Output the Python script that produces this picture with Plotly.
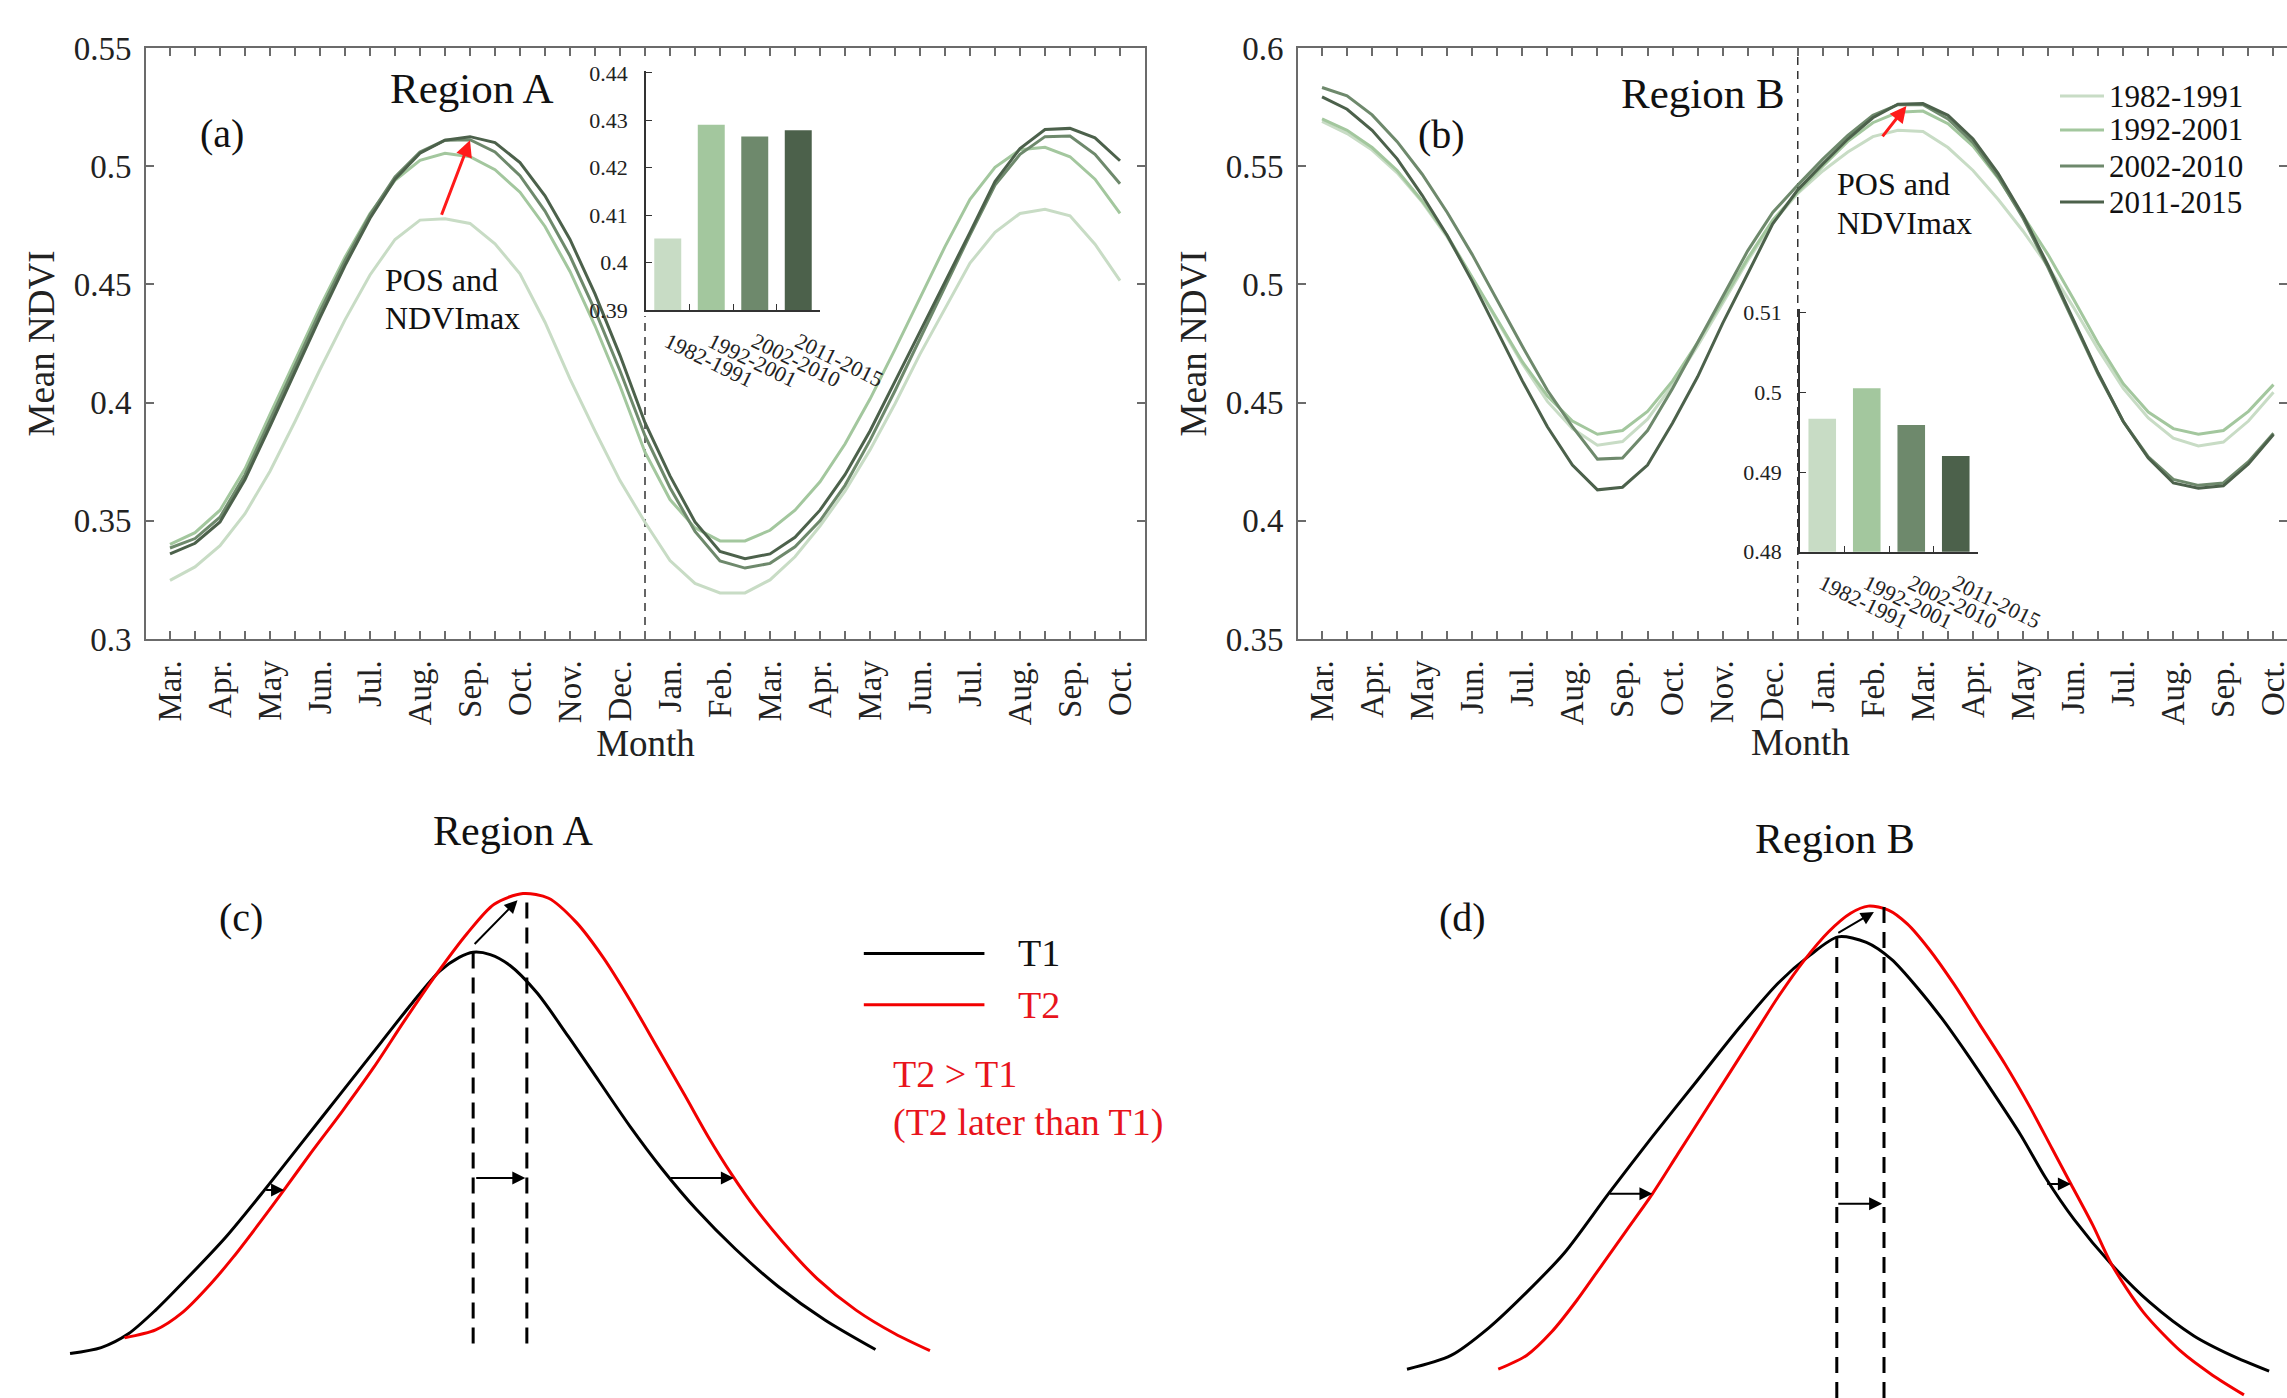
import plotly.graph_objects as go

W, H = 2287, 1398
FONT = "Liberation Serif, 'Times New Roman', Times, serif"


def px(x):
    return x / W


def py(y):
    return 1 - y / H


# ---------------- data ----------------
months = ['Mar.', 'Apr.', 'May', 'Jun.', 'Jul.', 'Aug.', 'Sep.', 'Oct.', 'Nov.', 'Dec.',
          'Jan.', 'Feb.', 'Mar.', 'Apr.', 'May', 'Jun.', 'Jul.', 'Aug.', 'Sep.', 'Oct.']
periods = ['1982-1991', '1992-2001', '2002-2010', '2011-2015']
period_colors = ['#c8dcc5', '#a3c79e', '#6e896c', '#4c614b']

# semi-monthly positions (0 = Mar., 0.5 = second half of Mar., ...)
half_month = [i * 0.5 for i in range(39)]

# Region A mean NDVI curves
ndvi_a_1982 = [0.3248, 0.3305, 0.3395, 0.3530, 0.3710, 0.3920, 0.4140, 0.4350, 0.4540, 0.4690,
               0.4772, 0.4778, 0.4758, 0.4672, 0.4545, 0.4340, 0.4100, 0.3880, 0.3670, 0.3494,
               0.3332, 0.3235, 0.3195, 0.3195, 0.3250, 0.3348, 0.3478, 0.3625, 0.3800, 0.3995,
               0.4205, 0.4400, 0.4590, 0.4720, 0.4800, 0.4818, 0.4790, 0.4670, 0.4516]
ndvi_a_1992 = [0.3400, 0.3450, 0.3545, 0.3720, 0.3950, 0.4180, 0.4405, 0.4615, 0.4800, 0.4940,
               0.5025, 0.5055, 0.5040, 0.4985, 0.4890, 0.4745, 0.4555, 0.4325, 0.4070, 0.3790,
               0.3590, 0.3470, 0.3415, 0.3415, 0.3460, 0.3545, 0.3665, 0.3825, 0.4015, 0.4225,
               0.4445, 0.4660, 0.4860, 0.4995, 0.5070, 0.5080, 0.5040, 0.4945, 0.4800]
ndvi_a_2002 = [0.3385, 0.3425, 0.3515, 0.3695, 0.3925, 0.4155, 0.4385, 0.4600, 0.4795, 0.4955,
               0.5060, 0.5110, 0.5112, 0.5060, 0.4960, 0.4810, 0.4620, 0.4390, 0.4135, 0.3860,
               0.3640, 0.3455, 0.3330, 0.3300, 0.3320, 0.3390, 0.3500, 0.3650, 0.3840, 0.4050,
               0.4270, 0.4490, 0.4710, 0.4920, 0.5050, 0.5125, 0.5128, 0.5050, 0.4926]
ndvi_a_2011 = [0.3360, 0.3405, 0.3495, 0.3675, 0.3900, 0.4130, 0.4360, 0.4580, 0.4780, 0.4945,
               0.5055, 0.5110, 0.5125, 0.5100, 0.5015, 0.4875, 0.4690, 0.4460, 0.4200, 0.3915,
               0.3690, 0.3495, 0.3370, 0.3340, 0.3360, 0.3430, 0.3545, 0.3695, 0.3880, 0.4090,
               0.4300, 0.4505, 0.4720, 0.4935, 0.5075, 0.5155, 0.5160, 0.5120, 0.5023]

# Region B mean NDVI curves
ndvi_b_1982 = [0.5690, 0.5638, 0.5568, 0.5472, 0.5348, 0.5200, 0.5025, 0.4845, 0.4665, 0.4505,
               0.4390, 0.4320, 0.4335, 0.4430, 0.4575, 0.4740, 0.4920, 0.5100, 0.5262, 0.5385,
               0.5480, 0.5560, 0.5625, 0.5652, 0.5647, 0.5579, 0.5482, 0.5360, 0.5225, 0.5075,
               0.4905, 0.4725, 0.4560, 0.4435, 0.4350, 0.4317, 0.4333, 0.4422, 0.4544]
ndvi_b_1992 = [0.5700, 0.5652, 0.5579, 0.5482, 0.5353, 0.5207, 0.5029, 0.4851, 0.4673, 0.4528,
               0.4422, 0.4366, 0.4382, 0.4463, 0.4592, 0.4754, 0.4932, 0.5110, 0.5272, 0.5390,
               0.5500, 0.5605, 0.5684, 0.5728, 0.5733, 0.5680, 0.5585, 0.5450, 0.5290, 0.5125,
               0.4940, 0.4750, 0.4580, 0.4460, 0.4390, 0.4366, 0.4382, 0.4463, 0.4576]
ndvi_b_2002 = [0.5833, 0.5798, 0.5717, 0.5604, 0.5466, 0.5304, 0.5126, 0.4932, 0.4738, 0.4552,
               0.4398, 0.4261, 0.4266, 0.4382, 0.4560, 0.4754, 0.4948, 0.5142, 0.5304, 0.5420,
               0.5530, 0.5630, 0.5715, 0.5760, 0.5760, 0.5700, 0.5600, 0.5455, 0.5280, 0.5070,
               0.4845, 0.4620, 0.4420, 0.4270, 0.4175, 0.4150, 0.4160, 0.4250, 0.4370]
ndvi_b_2011 = [0.5793, 0.5741, 0.5652, 0.5531, 0.5377, 0.5207, 0.5013, 0.4803, 0.4592, 0.4398,
               0.4236, 0.4131, 0.4142, 0.4236, 0.4414, 0.4609, 0.4835, 0.5045, 0.5256, 0.5400,
               0.5510, 0.5615, 0.5705, 0.5762, 0.5765, 0.5715, 0.5615, 0.5470, 0.5290, 0.5080,
               0.4850, 0.4625, 0.4420, 0.4265, 0.4160, 0.4138, 0.4148, 0.4240, 0.4365]

# inset bars: mean NDVI per period
mean_a = [0.4051, 0.4291, 0.4266, 0.4279]
mean_b = [0.4967, 0.5005, 0.4959, 0.4920]

# schematic curves (time, relative NDVI) for panels c and d
c_t1_t = [90, 130, 165, 200, 240, 290, 340, 390, 440, 490, 530, 565, 590, 608, 630, 655, 690, 730,
          770, 810, 850, 895, 945, 1000, 1060, 1125]
c_t1_v = [113, 128, 163, 223, 303, 408, 528, 653, 778, 903, 1003, 1083, 1118, 1131, 1125, 1098, 1028,
          918, 803, 688, 583, 478, 378, 283, 198, 123]
c_t2_t = [160, 200, 235, 270, 300, 335, 365, 400, 440, 480, 520, 560, 600, 635, 672, 705, 740, 775,
          810, 845, 880, 910, 940, 970, 1005, 1050, 1100, 1150, 1195]
c_t2_v = [153, 173, 218, 288, 358, 448, 528, 623, 728, 838, 958, 1073, 1178, 1253, 1280, 1268, 1208,
          1118, 1008, 888, 768, 663, 568, 483, 398, 303, 223, 163, 120]
d_t1_t = [170, 240, 300, 360, 420, 490, 560, 630, 700, 760, 810, 855, 900, 940, 980, 1020, 1060, 1100,
          1145, 1185, 1230, 1290, 1350, 1420, 1480, 1540]
d_t1_v = [73, 108, 178, 268, 368, 518, 663, 803, 943, 1053, 1123, 1170, 1156, 1113, 1043, 963, 873,
          778, 668, 558, 453, 338, 243, 158, 108, 68]
d_t2_t = [315, 360, 400, 440, 480, 520, 560, 600, 640, 680, 720, 760, 800, 840, 875, 903, 935, 965,
          1000, 1040, 1080, 1120, 1160, 1195, 1225, 1260, 1290, 1340, 1400, 1450, 1500]
d_t2_v = [73, 108, 168, 248, 338, 428, 518, 618, 718, 818, 918, 1018, 1108, 1183, 1230, 1248, 1238,
          1203, 1138, 1048, 948, 848, 738, 633, 543, 438, 338, 218, 118, 58, 8]

# peak-of-season markers (time) for T1 and T2
pos_c = [608, 677]
pos_d = [853, 928]
# shift arrows: (from time, to time, level)
shift_c = [(340, 365, 528), (610, 675, 558), (860, 943, 558)]
shift_d = [(490, 560, 518), (853, 925, 493), (1185, 1225, 543)]

series_a = [ndvi_a_1982, ndvi_a_1992, ndvi_a_2002, ndvi_a_2011]
series_b = [ndvi_b_1982, ndvi_b_1992, ndvi_b_2002, ndvi_b_2011]

RED_LINE = '#f20000'
RED_TEXT = '#e8141c'

fig = go.Figure()

# ---------- panels a and b: lines ----------
for name, col, ya, yb in zip(periods, period_colors, series_a, series_b):
    fig.add_trace(go.Scatter(x=half_month, y=ya, mode='lines', name=name,
                             line=dict(color=col, width=3), xaxis='x', yaxis='y',
                             showlegend=False))
    fig.add_trace(go.Scatter(x=half_month, y=yb, mode='lines', name=name,
                             line=dict(color=col, width=3), xaxis='x2', yaxis='y2',
                             showlegend=False))

# ---------- inset bars ----------
fig.add_trace(go.Bar(x=periods, y=mean_a, marker=dict(color=period_colors, line=dict(width=0)),
                     width=0.62, xaxis='x5', yaxis='y5', showlegend=False))
fig.add_trace(go.Bar(x=periods, y=mean_b, marker=dict(color=period_colors, line=dict(width=0)),
                     width=0.62, xaxis='x6', yaxis='y6', showlegend=False))


# ---------- panels c and d: schematic ----------
def schematic(xa, ya, t1t, t1v, t2t, t2v, pos, base):
    fig.add_trace(go.Scatter(x=t1t, y=t1v, mode='lines',
                             line=dict(color='black', width=3, shape='spline', smoothing=0.8),
                             xaxis=xa, yaxis=ya, showlegend=False))
    fig.add_trace(go.Scatter(x=t2t, y=t2v, mode='lines',
                             line=dict(color=RED_LINE, width=3, shape='spline', smoothing=0.8),
                             xaxis=xa, yaxis=ya, showlegend=False))
    tops = [max(t1v), max(t2v)]
    for p, top in zip(pos, tops):
        fig.add_trace(go.Scatter(x=[p, p], y=[base, top], mode='lines',
                                 line=dict(color='black', width=3, dash='16px,9px'),
                                 xaxis=xa, yaxis=ya, showlegend=False))


schematic('x3', 'y3', c_t1_t, c_t1_v, c_t2_t, c_t2_v, pos_c, 138)
schematic('x4', 'y4', d_t1_t, d_t1_v, d_t2_t, d_t2_v, pos_d, 0)

# legend samples for T1 / T2 in panel c
fig.add_trace(go.Scatter(x=[1110, 1265], y=[1128, 1128], mode='lines', line=dict(color='black', width=3),
                         xaxis='x3', yaxis='y3', showlegend=False))
fig.add_trace(go.Scatter(x=[1110, 1265], y=[998, 998], mode='lines', line=dict(color=RED_LINE, width=3),
                         xaxis='x3', yaxis='y3', showlegend=False))

# ---------- axes ----------
tick_vals = [i * 0.5 for i in range(40)]
tick_text = [months[i // 2] if i % 2 == 0 else '' for i in range(40)]

main_common = dict(showline=True, linecolor='#6b6b6b', linewidth=2, mirror='ticks', ticks='inside',
                   ticklen=8, tickwidth=1.5, tickcolor='#6b6b6b', showgrid=False, zeroline=False,
                   tickfont=dict(family=FONT, size=33, color='#222'), ticklabelstandoff=6,
                   automargin=False)

xa_common = dict(main_common, tickvals=tick_vals, ticktext=tick_text, tickangle=-90,
                 ticklabeloverflow='allow')

ya_a_vals = [0.3, 0.35, 0.4, 0.45, 0.5, 0.55]
ya_b_vals = [0.35, 0.4, 0.45, 0.5, 0.55, 0.6]

top_dom = [py(639), py(48)]

inset_common = dict(showline=True, linecolor='#333', linewidth=1.5, ticks='inside', ticklen=6,
                    tickwidth=1.2, tickcolor='#333', showgrid=False, zeroline=False,
                    tickfont=dict(family=FONT, size=22, color='#222'), automargin=False)

hidden = dict(visible=False, automargin=False, showgrid=False, zeroline=False)

ytitle = dict(text='Mean NDVI', font=dict(family=FONT, size=37, color='#222'), standoff=8)

fig.update_layout(
    xaxis=dict(xa_common, domain=[px(146), px(1145)], range=[-0.48, 19.5], anchor='y',
               title=dict(text='Month', font=dict(family=FONT, size=37, color='#222'), standoff=6)),
    yaxis=dict(main_common, domain=top_dom, range=[0.3, 0.55], tickvals=ya_a_vals,
               ticktext=[f'{v:g}' for v in ya_a_vals], anchor='x', title=ytitle),
    xaxis2=dict(xa_common, domain=[px(1298), 1.0], range=[-0.48, 19.27], anchor='y2'),
    yaxis2=dict(main_common, domain=top_dom, range=[0.35, 0.6], tickvals=ya_b_vals,
                ticktext=[f'{v:g}' for v in ya_b_vals], anchor='x2', title=ytitle),
    xaxis5=dict(inset_common, domain=[px(646), px(820)], anchor='y5', type='category',
                range=[-0.5, 3.5], tickson='boundaries', tickangle=26, ticklabelstandoff=9),
    yaxis5=dict(inset_common, domain=[py(310), py(71)], anchor='x5', range=[0.39, 0.44042],
                tickvals=[0.39, 0.40, 0.41, 0.42, 0.43, 0.44],
                ticktext=['0.39', '0.4', '0.41', '0.42', '0.43', '0.44'], ticklabelstandoff=12),
    xaxis6=dict(inset_common, domain=[px(1800), px(1978)], anchor='y6', type='category',
                range=[-0.5, 3.5], tickson='boundaries', tickangle=26, ticklabelstandoff=9),
    yaxis6=dict(inset_common, domain=[py(551.7), py(308.7)], anchor='x6', range=[0.48, 0.5105],
                tickvals=[0.48, 0.49, 0.50, 0.51], ticktext=['0.48', '0.49', '0.5', '0.51'],
                ticklabelstandoff=12),
    xaxis3=dict(hidden, domain=[0, 0.5], range=[0, 1469.4], anchor='y3'),
    yaxis3=dict(hidden, domain=[0, 618 / H], range=[0, 1568], anchor='x3'),
    xaxis4=dict(hidden, domain=[0.5, 1.0], range=[-248.7, 1568.4], anchor='y4'),
    yaxis4=dict(hidden, domain=[0, 618 / H], range=[0, 1568], anchor='x4'),
)

# ---------- annotations ----------
ann = []


def text(x, y, s, size, color='#111', xanchor='center', xref='paper', yref='paper'):
    ann.append(dict(x=x, y=y, xref=xref, yref=yref, text=s, showarrow=False, xanchor=xanchor,
                    yanchor='middle', font=dict(family=FONT, size=size, color=color)))


text(px(472), py(89), 'Region A', 43)
text(px(222), py(134), '(a)', 40)
text(px(383), py(280), 'POS and', 32, xanchor='left')
text(px(383), py(318), 'NDVImax', 32, xanchor='left')

text(px(1703), py(94), 'Region B', 43)
text(px(1441), py(135), '(b)', 40)
text(px(1835), py(184), 'POS and', 32, xanchor='left')
text(px(1835), py(223), 'NDVImax', 32, xanchor='left')
# x title of panel b (axis is cut by the figure edge, so centre it on the full axis length)
text(px(1800), py(742), 'Month', 37, color='#222')

text(660, 1438, 'Region A', 42, xref='x3', yref='y3')
text(310, 1218, '(c)', 40, xref='x3', yref='y3')
text(1305, 1128, 'T1', 38, xanchor='left', xref='x3', yref='y3')
text(1305, 998, 'T2', 38, color=RED_TEXT, xanchor='left', xref='x3', yref='y3')
text(1145, 823, 'T2 &gt; T1', 38, color=RED_TEXT, xanchor='left', xref='x3', yref='y3')
text(1145, 698, '(T2 later than T1)', 38, color=RED_TEXT, xanchor='left', xref='x3', yref='y3')

text(850, 1418, 'Region B', 42, xref='x4', yref='y4')
text(258, 1218, '(d)', 40, xref='x4', yref='y4')

# legend of panel b (line sample + label)
legend_rows = [96, 130, 166, 202]
shapes = []
for name, col, ry in zip(periods, period_colors, legend_rows):
    shapes.append(dict(type='line', xref='paper', yref='paper', x0=px(2060), x1=px(2104),
                       y0=py(ry), y1=py(ry), line=dict(color=col, width=3)))
    text(px(2107), py(ry), name, 31, xanchor='left')


def arrow(x0, y0, x1, y1, xr, yr, color='black', width=2, size=1.3):
    ann.append(dict(x=x1, y=y1, ax=x0, ay=y0, xref=xr, yref=yr, axref=xr, ayref=yr, text='',
                    showarrow=True, arrowhead=2, arrowsize=size, arrowwidth=width, arrowcolor=color,
                    standoff=0, startstandoff=0))


# red arrows: from the 1982-1991 first-season peak to the 2011-2015 first-season peak (region A)
first_season = 20
a1 = ndvi_a_1982[:first_season]
a4 = ndvi_a_2011[:first_season]
i1 = a1.index(max(a1))
i4 = a4.index(max(a4))
arrow(half_month[i1] - 0.08, a1[i1] + 0.001, half_month[i4], a4[i4] - 0.0015,
      'x', 'y', color='#ff1a1a', width=3, size=1.1)
arrow(11.17, 0.5620, 11.67, 0.5755, 'x2', 'y2', color='#ff1a1a', width=3, size=1.1)

# schematic arrows
arrow(pos_c[0], 1148, 665, 1263, 'x3', 'y3')
for a0, a1_, lv in shift_c:
    arrow(a0, lv, a1_, lv, 'x3', 'y3')
arrow(pos_d[0], 1178, 912, 1233, 'x4', 'y4')
for a0, a1_, lv in shift_d:
    arrow(a0, lv, a1_, lv, 'x4', 'y4')

fig.update_layout(annotations=ann)

# dashed separators (year boundary)
shapes += [
    dict(type='line', xref='x', yref='paper', x0=9.5, x1=9.5, y0=py(639), y1=py(316),
         line=dict(color='#333', width=1.5, dash='8px,6px'), layer='below'),
    dict(type='line', xref='x2', yref='paper', x0=9.5, x1=9.5, y0=py(639), y1=py(48),
         line=dict(color='#333', width=1.5, dash='8px,6px'), layer='below'),
]
fig.update_layout(shapes=shapes)

fig.update_layout(
    width=W, height=H, margin=dict(l=0, r=0, t=0, b=0, autoexpand=False),
    paper_bgcolor='white', plot_bgcolor='rgba(0,0,0,0)',
    font=dict(family=FONT, color='#111'),
    showlegend=False,
)

fig.write_html("out.html", config={'displayModeBar': False},
               post_script="document.body.style.margin='0';")
